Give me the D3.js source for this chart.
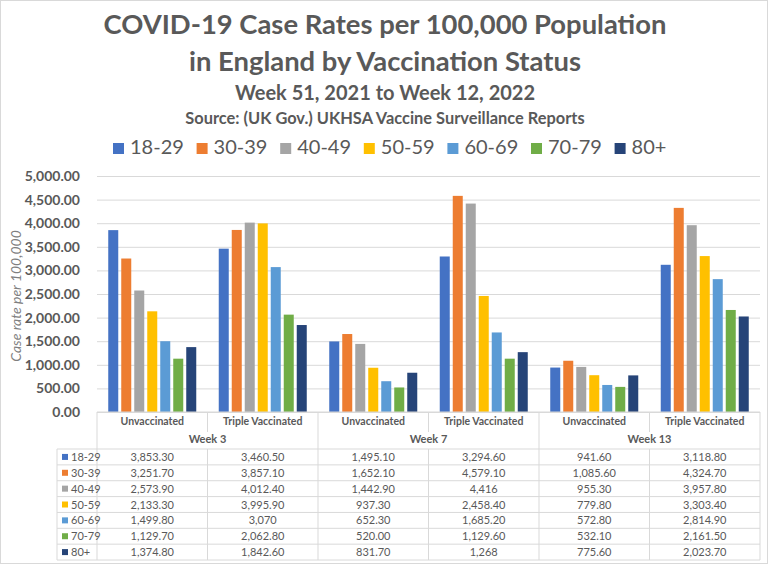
<!DOCTYPE html>
<html>
<head>
<meta charset="utf-8">
<script src="https://cdn.jsdelivr.net/npm/d3@7"></script>
<style>
  body { margin: 0; background: #fff; }
  text { font-family: Lato, "Open Sans", sans-serif; fill: #595959; }
</style>
</head>
<body>
<div id="chart"></div>
<script>
// chart values
const ages = ["18-29", "30-39", "40-49", "50-59", "60-69", "70-79", "80+"];
const weeks = ["Week 3", "Week 7", "Week 13"];
const statuses = ["Unvaccinated", "Triple Vaccinated"];
const yTicks = [0, 500, 1000, 1500, 2000, 2500, 3000, 3500, 4000, 4500, 5000];

// one row per age band, columns: W3 unvacc, W3 triple, W7 unvacc, W7 triple, W13 unvacc, W13 triple
const rates1829 = ["3,853.30", "3,460.50", "1,495.10", "3,294.60", "941.60", "3,118.80"];
const rates3039 = ["3,251.70", "3,857.10", "1,652.10", "4,579.10", "1,085.60", "4,324.70"];
const rates4049 = ["2,573.90", "4,012.40", "1,442.90", "4,416", "955.30", "3,957.80"];
const rates5059 = ["2,133.30", "3,995.90", "937.30", "2,458.40", "779.80", "3,303.40"];
const rates6069 = ["1,499.80", "3,070", "652.30", "1,685.20", "572.80", "2,814.90"];
const rates7079 = ["1,129.70", "2,062.80", "520.00", "1,129.60", "532.10", "2,161.50"];
const rates80 = ["1,374.80", "1,842.60", "831.70", "1,268", "775.60", "2,023.70"];

const colors = ["#4472C4", "#ED7D31", "#A5A5A5", "#FFC000", "#5B9BD5", "#70AD47", "#264478"];

const rows = [rates1829, rates3039, rates4049, rates5059, rates6069, rates7079, rates80]
    .map((r, i) => ({ age: ages[i], labels: r, values: r.map(s => +s.replace(/,/g, "")) }));

// columns = week x status
const columns = [];
weeks.forEach(w => statuses.forEach(s => columns.push({ week: w, status: s })));

const W = 768, H = 564;
const plot = { left: 97, right: 760, top: 176, bottom: 412 };
const tableTop = 449, rowH = 15.86, keyLeft = 57;

const svg = d3.select("#chart").append("svg")
    .attr("width", W)
    .attr("height", H);

svg.append("rect")
    .attr("x", 0.5).attr("y", 0.5)
    .attr("width", W - 1).attr("height", H - 1)
    .attr("fill", "#fff")
    .attr("stroke", "#d9d9d9");

// titles
const titles = [
    { t: "COVID-19 Case Rates per 100,000 Population", y: 34, size: 27.4 },
    { t: "in England by Vaccination Status", y: 71, size: 27.4 },
    { t: "Week 51, 2021 to Week 12, 2022", y: 100, size: 20 },
    { t: "Source: (UK Gov.) UKHSA Vaccine Surveillance Reports", y: 124, size: 16.4 }
];
svg.selectAll(".title")
    .data(titles)
    .enter().append("text")
    .attr("class", "title")
    .attr("x", 385)
    .attr("y", d => d.y)
    .attr("text-anchor", "middle")
    .style("font-size", d => d.size + "px")
    .style("font-weight", "bold")
    .text(d => d.t);

// legend
const legend = svg.append("g").selectAll("g")
    .data(ages)
    .enter().append("g")
    .attr("transform", (d, i) => `translate(${113 + i * 83.6},143)`);
legend.append("rect")
    .attr("width", 11).attr("height", 11)
    .attr("fill", (d, i) => colors[i]);
legend.append("text")
    .attr("x", 17).attr("y", 11)
    .style("font-size", "20px")
    .text(d => d);

// scales
const xScale = d3.scaleBand()
    .domain(d3.range(columns.length))
    .range([plot.left, plot.right]);
const xAge = d3.scaleBand()
    .domain(ages)
    .range([0, xScale.bandwidth()])
    .paddingInner(0.23)
    .paddingOuter(0.865);
const yScale = d3.scaleLinear()
    .domain([0, 5000])
    .range([plot.bottom, plot.top]);

// gridlines
svg.append("g")
    .attr("transform", `translate(${plot.left},0)`)
    .call(d3.axisLeft(yScale).tickValues(yTicks).tickSize(-(plot.right - plot.left)).tickFormat(""))
    .call(g => g.select(".domain").remove())
    .call(g => g.selectAll("line").attr("stroke", "#d9d9d9"));

// y axis labels
svg.append("g")
    .attr("transform", `translate(${plot.left - 14},0)`)
    .call(d3.axisLeft(yScale).tickValues(yTicks).tickSize(0).tickFormat(d3.format(",.2f")))
    .call(g => g.select(".domain").remove())
    .call(g => g.selectAll("text")
        .attr("fill", "#595959")
        .style("font-family", "Lato, sans-serif")
        .style("font-size", "14px")
        .style("font-weight", "bold"));

svg.append("text")
    .attr("transform", `translate(21,${(plot.top + plot.bottom) / 2 + 2}) rotate(-90)`)
    .attr("text-anchor", "middle")
    .style("font-size", "14px")
    .style("font-style", "italic")
    .style("fill", "#7f7f7f")
    .text("Case rate per 100,000");

// bars
const bars = svg.append("g").selectAll("g")
    .data(rows)
    .enter().append("g")
    .attr("fill", (d, i) => colors[i]);
bars.selectAll("rect")
    .data(d => d.values.map((v, c) => ({ age: d.age, v: v, c: c })))
    .enter().append("rect")
    .attr("x", d => xScale(d.c) + xAge(d.age))
    .attr("width", xAge.bandwidth())
    .attr("y", d => yScale(d.v))
    .attr("height", d => yScale(0) - yScale(d.v));

// data table
const grid = svg.append("g").attr("stroke", "#d9d9d9").attr("stroke-width", 1);
const tableBottom = tableTop + rowH * rows.length;

grid.append("line")
    .attr("x1", plot.left).attr("x2", plot.right)
    .attr("y1", plot.bottom).attr("y2", plot.bottom);
grid.selectAll(".hrow")
    .data(d3.range(rows.length + 1))
    .enter().append("line")
    .attr("x1", keyLeft).attr("x2", plot.right)
    .attr("y1", i => tableTop + i * rowH)
    .attr("y2", i => tableTop + i * rowH);
grid.append("line")
    .attr("x1", keyLeft).attr("x2", keyLeft)
    .attr("y1", tableTop).attr("y2", tableBottom);
grid.selectAll(".vcol")
    .data(d3.range(columns.length + 1))
    .enter().append("g")
    .each(function (c) {
        const x = c < columns.length ? xScale(c) : plot.right;
        const g = d3.select(this);
        if (c % 2 === 0) {
            g.append("line").attr("x1", x).attr("x2", x)
                .attr("y1", plot.bottom).attr("y2", tableBottom);
        } else {
            g.append("line").attr("x1", x).attr("x2", x)
                .attr("y1", plot.bottom).attr("y2", 432);
            g.append("line").attr("x1", x).attr("x2", x)
                .attr("y1", tableTop).attr("y2", tableBottom);
        }
    });

// category + week labels
svg.append("g").selectAll("text")
    .data(columns)
    .enter().append("text")
    .attr("x", (d, i) => xScale(i) + xScale.bandwidth() / 2)
    .attr("y", 425)
    .attr("text-anchor", "middle")
    .style("font-size", "10.5px")
    .style("font-weight", "bold")
    .text(d => d.status);
svg.append("g").selectAll("text")
    .data(weeks)
    .enter().append("text")
    .attr("x", (d, i) => xScale(i * 2 + 1))
    .attr("y", 443)
    .attr("text-anchor", "middle")
    .style("font-size", "11px")
    .style("font-weight", "bold")
    .text(d => d);

// table rows
const trow = svg.append("g").selectAll("g")
    .data(rows)
    .enter().append("g")
    .attr("transform", (d, i) => `translate(0,${tableTop + i * rowH})`);
trow.append("rect")
    .attr("x", 62).attr("y", rowH / 2 - 3)
    .attr("width", 6).attr("height", 6)
    .attr("fill", (d, i) => colors[i]);
trow.append("text")
    .attr("x", 71).attr("y", rowH / 2 + 4)
    .style("font-size", "11px")
    .text(d => d.age);
trow.selectAll(".val")
    .data(d => d.labels)
    .enter().append("text")
    .attr("x", (d, c) => xScale(c) + xScale.bandwidth() / 2)
    .attr("y", rowH / 2 + 4)
    .attr("text-anchor", "middle")
    .style("font-size", "11px")
    .text(d => d);
</script>
</body>
</html>
